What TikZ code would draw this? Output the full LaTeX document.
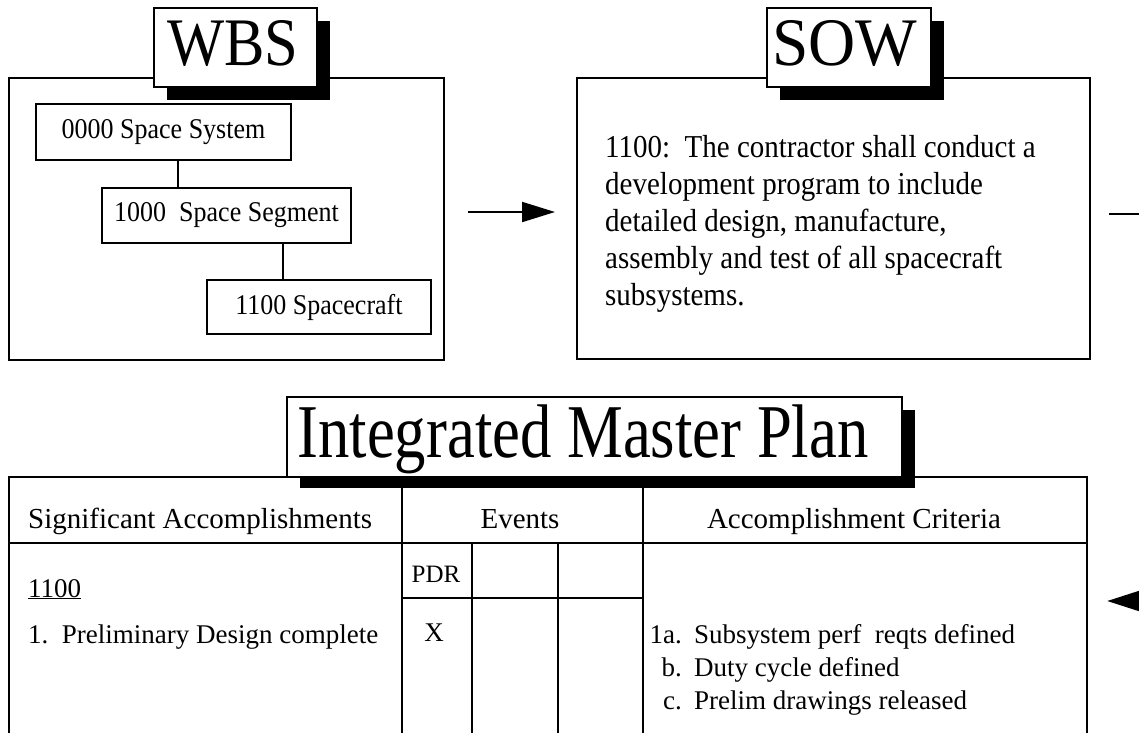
\documentclass[tikz,border=0pt]{standalone}
\usepackage{graphicx}
\usepackage{fontspec}
\setmainfont{Liberation Serif}
\usetikzlibrary{arrows.meta,fit}
\newcommand\FontBox{\fontsize{26}{30}\selectfont}
\newcommand\FontSow{\fontsize{29}{37}\selectfont}
\newcommand\FontHead{\fontsize{29}{33}\selectfont}
\newcommand\FontBody{\fontsize{27}{31}\selectfont}
\newcommand\FontSmall{\fontsize{25}{29}\selectfont}
\newcommand\Tall[1]{\scalebox{1}[1.1]{#1}}
\begin{document}
\begin{tikzpicture}[x=1pt,y=-1pt,
  frame/.style={draw, line width=2pt, inner sep=0pt},
  titlebox/.style={draw, line width=1.5pt, fill=white, inner sep=0pt},
  shadowbox/.style={fill=black},
  wbsbox/.style={draw, line width=2pt, inner sep=0pt, font=\FontBox},
  tline/.style={line width=2.2pt},
  conn/.style={line width=2pt},
  arr/.style={line width=2pt, -{Triangle[length=33pt,width=20pt]}},
  t/.style={inner sep=0pt, anchor=base west},
  tc/.style={inner sep=0pt, anchor=base},
]
\useasboundingbox (0,0) rectangle (1139,732);
\clip (0,0) rectangle (1139,732);
\fill[white] (0,0) rectangle (1139,732);

% ---------- WBS ----------
\node[frame, fit={(9,78)(444,360)}] (wbs) {};
\fill[shadowbox] (167,21) rectangle (330,100);
\node[titlebox, fit={(154,8)(317,87)}] (wbst) {};
\node[tc] (wbslabel) at (233,65) {\scalebox{0.89}[1]{\fontsize{68}{68}\selectfont WBS}};

\node[wbsbox, minimum width=255pt, minimum height=56pt] (b0) at (163.5,132) {\Tall{0000 Space System}};
\node[wbsbox, minimum width=249pt, minimum height=55pt] (b1) at (226.5,215.5) {\Tall{1000\ \ Space Segment}};
\node[wbsbox, minimum width=224pt, minimum height=54pt] (b2) at (319,307) {\Tall{1100 Spacecraft}};
\coordinate (c1) at (178,0);
\coordinate (c2) at (283,0);
\draw[conn] (b0.south -| c1) -- (b1.north -| c1);
\draw[conn] (b1.south -| c2) -- (b2.north -| c2);

% ---------- SOW ----------
\node[frame, fit={(577,78)(1090,359)}] (sow) {};
\fill[shadowbox] (780,21) rectangle (944,100);
\node[titlebox, fit={(767,8)(931,87)}] (sowt) {};
\node[tc] (sowlabel) at (845,65) {\scalebox{0.96}[1]{\fontsize{68}{68}\selectfont SOW}};

\node[t, font=\FontSow] (s1) at (605,157) {\Tall{1100:\ \ The contractor shall conduct a}};
\node[t, font=\FontSow] (s2) at (605,194) {\Tall{development program to include}};
\node[t, font=\FontSow] (s3) at (605,231) {\Tall{detailed design, manufacture,}};
\node[t, font=\FontSow] (s4) at (605,268) {\Tall{assembly and test of all spacecraft}};
\node[t, font=\FontSow] (s5) at (605,305) {\Tall{subsystems.}};

% ---------- connectors between blocks ----------
\coordinate (a1) at (467,212);
\draw[arr, shorten <=23pt, shorten >=21pt] (wbs.east |- a1) -- (sow.west |- a1);
\coordinate (out1) at (1150,214);
\draw[conn, shorten <=18pt] (sow.east |- out1) -- (out1);

% ---------- IMP table ----------
\node[inner sep=0pt, fit={(9,477)(1087,760)}] (imp) {};
\draw[tline] (imp.south west) -- (imp.north west) -- (imp.north east) -- (imp.south east);
\coordinate (h1) at (0,543);
\coordinate (h2) at (0,598);
\coordinate (v1) at (402,0);
\coordinate (v2) at (472,0);
\coordinate (v3) at (558,0);
\coordinate (v4) at (643,0);
\draw[tline] (imp.west |- h1) -- (imp.east |- h1);
\draw[tline] (imp.north -| v1) -- (imp.south -| v1);
\draw[tline] (imp.north -| v4) -- (imp.south -| v4);
\draw[tline] (h1 -| v2) -- (imp.south -| v2);
\draw[tline] (h1 -| v3) -- (imp.south -| v3);
\draw[tline] (h2 -| v1) -- (h2 -| v4);

\fill[shadowbox] (300,410) rectangle (915,488);
\node[titlebox, fit={(287,397)(902,477)}] (impt) {};
\node[tc] (implabel) at (583,457) {\scalebox{0.825}[1]{\fontsize{76}{76}\selectfont Integrated Master Plan}};

\node[t, font=\FontHead] (hsa) at (28,528) {Significant Accomplishments};
\node[tc, font=\FontHead] (hev) at (520,528) {Events};
\node[tc, font=\FontHead] (hac) at (854,528) {Accomplishment Criteria};

\node[tc, font=\FontSmall] (pdr) at (436,582) {PDR};
\node[tc, font=\FontBody] (xm) at (434,641) {X};

\node[t, font=\FontBody] (n1100) at (28,597) {\underline{1100}};
\node[t, font=\FontBody] (sa1) at (28,643) {1.\ \ Preliminary Design complete};

\node[inner sep=0pt, anchor=base east, font=\FontBody] (l1) at (682,643) {1a.};
\node[t, font=\FontBody] (c1t) at (694,643) {Subsystem perf\ \ reqts defined};
\node[inner sep=0pt, anchor=base east, font=\FontBody] (l2) at (682,676) {b.};
\node[t, font=\FontBody] (c2t) at (694,676) {Duty cycle defined};
\node[inner sep=0pt, anchor=base east, font=\FontBody] (l3) at (682,709) {c.};
\node[t, font=\FontBody] (c3t) at (694,709) {Prelim drawings released};

\coordinate (in1) at (1160,601);
\draw[arr, -{Triangle[length=32pt,width=20pt]}, shorten >=20pt] (in1) -- (imp.east |- in1);
\end{tikzpicture}
\end{document}
